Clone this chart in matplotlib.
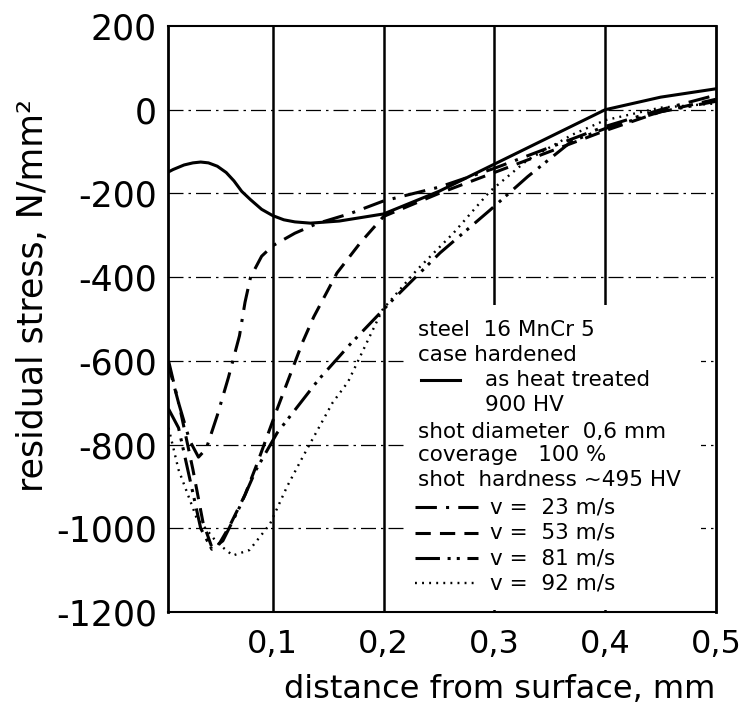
import matplotlib
matplotlib.use('Agg')
import matplotlib.pyplot as plt
from matplotlib.patches import Rectangle

# curves (distance in mm, residual stress in N/mm2)
x_heat = [0.005, 0.01, 0.02, 0.028, 0.035, 0.042, 0.05, 0.058, 0.065, 0.072, 0.08, 0.09, 0.1, 0.11, 0.12,
          0.134, 0.16, 0.2, 0.25, 0.3, 0.35, 0.4, 0.45, 0.5]
y_heat = [-150, -143, -132, -127, -125, -127, -135, -150, -170, -195, -215, -238, -253, -263, -268,
          -271, -266, -249, -195, -130, -65, 0, 30, 50]

x_v23 = [0.006, 0.015, 0.025, 0.033, 0.04, 0.05, 0.06, 0.07, 0.075, 0.08, 0.09, 0.1, 0.12, 0.14, 0.17, 0.2,
         0.25, 0.3, 0.35, 0.4, 0.45, 0.5]
y_v23 = [-600, -700, -790, -830, -810, -730, -640, -540, -460, -400, -350, -325, -295, -272, -248, -218,
         -185, -140, -90, -40, 0, 35]

x_v53 = [0.006, 0.016, 0.028, 0.037, 0.045, 0.05, 0.061, 0.075, 0.086, 0.104, 0.127, 0.137, 0.158, 0.179,
         0.2, 0.25, 0.3, 0.35, 0.4, 0.45, 0.5]
y_v53 = [-610, -710, -860, -985, -1045, -1045, -995, -920, -845, -715, -555, -495, -390, -318,
         -255, -200, -150, -100, -50, -5, 25]

x_v81 = [0.006, 0.015, 0.025, 0.035, 0.045, 0.055, 0.07, 0.085, 0.104, 0.141, 0.17, 0.208, 0.251, 0.296,
         0.33, 0.37, 0.4, 0.45, 0.5]
y_v81 = [-715, -760, -880, -1000, -1050, -1030, -950, -860, -772, -646, -560, -455, -342, -240,
         -160, -75, -45, -5, 20]

x_v92 = [0.006, 0.015, 0.031, 0.05, 0.064, 0.079, 0.0975, 0.113, 0.127, 0.154, 0.168, 0.199, 0.23, 0.263,
         0.296, 0.33, 0.37, 0.4, 0.45, 0.5]
y_v92 = [-760, -860, -973, -1035, -1065, -1052, -990, -900, -830, -700, -650, -478, -383, -295,
         -195, -120, -60, -25, 5, 15]

y_ticks = [200, 0, -200, -400, -600, -800, -1000, -1200]
y_ticklabels = ['200', '0', '-200', '-400', '-600', '-800', '-1000', '-1200']
x_ticks = [0.1, 0.2, 0.3, 0.4, 0.5]
x_ticklabels = ['0,1', '0,2', '0,3', '0,4', '0,5']

# line styles of the four shot velocities
dash_v23 = (0, (7, 3, 1, 3))
dash_v53 = (0, (5, 3))
dash_v81 = (0, (8, 2.5, 1, 2, 1, 2.5))
dash_v92 = (0, (0.8, 2.2))

fig = plt.figure(figsize=(7.41, 7.04), dpi=100)
ax = fig.add_axes([168/741, 1 - 612/704, 548/741, 586/704])

lw = 2.2
ax.plot(x_heat, y_heat, color='black', lw=lw, zorder=3)
ax.plot(x_v23, y_v23, color='black', lw=lw, linestyle=dash_v23, zorder=3)
ax.plot(x_v53, y_v53, color='black', lw=lw, linestyle=dash_v53, zorder=3)
ax.plot(x_v81, y_v81, color='black', lw=lw, linestyle=dash_v81, zorder=3)
ax.plot(x_v92, y_v92, color='black', lw=1.7, linestyle=dash_v92, zorder=3)

ax.set_xlim(0.0055, 0.5)
ax.set_ylim(-1200, 200)

# grid: heavy verticals, thin broken horizontals
for xv in x_ticks[:-1]:
    ax.axvline(xv, color='black', lw=1.8, zorder=0.5)
for yv in y_ticks[1:-1]:
    ax.axhline(yv, color='black', lw=0.9, linestyle=(0, (12, 4, 2, 4)), zorder=0.5)

# white area behind the text block hides the grid there
ax.add_patch(Rectangle((0.4325, 0.004), 0.54, 0.52, transform=ax.transAxes,
                       facecolor='white', edgecolor='none', zorder=1))

ax.set_xticks(x_ticks)
ax.set_xticklabels(x_ticklabels, fontsize=23)
ax.set_yticks(y_ticks)
ax.set_yticklabels(y_ticklabels, fontsize=25)
ax.tick_params(axis='both', length=0)
ax.tick_params(axis='x', pad=12)
ax.tick_params(axis='y', pad=8)

for side in ['left', 'right']:
    ax.spines[side].set_linewidth(2.0)
for side in ['top', 'bottom']:
    ax.spines[side].set_linewidth(1.5)

ax.set_xlabel('distance from surface, mm', fontsize=23)
ax.xaxis.set_label_coords(0.606, -0.105)
ax.set_ylabel('residual stress, N/mm²', fontsize=25)
ax.yaxis.set_label_coords(-0.215, 0.54)

# text block with the line keys
fs = 15.5
tx = 0.456
ax.text(tx, 0.481, 'steel  16 MnCr 5', transform=ax.transAxes, fontsize=fs, va='center', zorder=4)
ax.text(tx, 0.4386, 'case hardened', transform=ax.transAxes, fontsize=fs, va='center', zorder=4)
ax.plot([0.462, 0.533], [0.396, 0.396], transform=ax.transAxes, color='black', lw=lw, zorder=4)
ax.text(0.578, 0.396, 'as heat treated', transform=ax.transAxes, fontsize=fs, va='center', zorder=4)
ax.text(0.578, 0.353, '900 HV', transform=ax.transAxes, fontsize=fs, va='center', zorder=4)
ax.text(tx, 0.307, 'shot diameter  0,6 mm', transform=ax.transAxes, fontsize=fs, va='center', zorder=4)
ax.text(tx, 0.268, 'coverage   100 %', transform=ax.transAxes, fontsize=fs, va='center', zorder=4)
ax.text(tx, 0.225, 'shot  hardness ~495 HV', transform=ax.transAxes, fontsize=fs, va='center', zorder=4)

keys = [(0.179, dash_v23, 'v =  23 m/s', lw),
        (0.135, dash_v53, 'v =  53 m/s', lw),
        (0.092, dash_v81, 'v =  81 m/s', lw),
        (0.049, dash_v92, 'v =  92 m/s', 1.7)]
for ky, ls, lab, klw in keys:
    ax.plot([0.451, 0.566], [ky, ky], transform=ax.transAxes, color='black', lw=klw, linestyle=ls, zorder=4)
    ax.text(0.588, ky, lab, transform=ax.transAxes, fontsize=fs, va='center', zorder=4)

fig.savefig('out.png', dpi=100)
